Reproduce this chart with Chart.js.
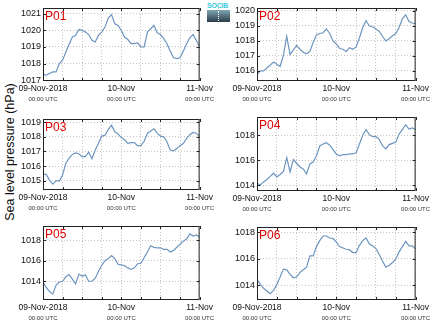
<!DOCTYPE html>
<html>
<head>
<meta charset="utf-8">
<script src="https://cdn.jsdelivr.net/npm/chart.js@4.4.1/dist/chart.umd.min.js"></script>
<style>
  body { margin: 0; background: #fff; width: 434px; height: 327px; overflow: hidden; position: relative; font-family: 'Liberation Sans', Arial, sans-serif; }
  .panel { position: absolute; }
  #ylab { position: absolute; left: 10px; top: 152px; transform: translate(-50%, -50%) rotate(-90deg); font-size: 12.5px; white-space: nowrap; color: #111; }
  #logo { position: absolute; left: 207px; top: 2px; width: 23px; }
  #logo .t { font-size: 7px; font-weight: bold; color: #3cc8d8; line-height: 8px; letter-spacing: -0.2px; }
  #logo .b { height: 12px; background: linear-gradient(#7fa6b2, #2c3c4a); position: relative; }
  #logo .b:after { content: ''; position: absolute; left: 11px; top: 1px; height: 10px; border-left: 1px dotted #fff; }
</style>
</head>
<body>
<div id="ylab">Sea level pressure (hPa)</div>
<div id="logo"><div class="t">SOCIB</div><div class="b"></div></div>

<script>
// hours since 09-Nov-2018 00:00 UTC
const hours = [0,1,2,3,4,5,6,7,8,9,10,11,12,13,14,15,16,17,18,19,20,21,22,23,24,
               25,26,27,28,29,30,31,32,33,34,35,36,37,38,39,40,41,42,43,44,45,46,47,48];

// tick labels
const tickHours = [0, 24, 48];
const tickNames = ['09-Nov-2018', '10-Nov', '11-Nov'];
const subLabel = '00:00 UTC';

// sea level pressure per station (hPa)
const p01 = [1017.35,1017.3,1017.4,1017.5,1017.5,1018.0,1018.2,1018.7,1019.15,1019.6,1019.7,1020.05,1020.0,
             1019.9,1019.75,1019.4,1019.3,1019.7,1019.9,1020.2,1020.75,1020.95,1020.4,1020.3,1020.0,
             1019.6,1019.45,1019.2,1019.2,1019.25,1019.0,1019.0,1019.9,1020.1,1020.3,1019.85,1019.75,
             1019.5,1019.2,1018.75,1018.35,1018.3,1018.35,1018.75,1019.2,1019.55,1019.75,1019.4,1019.0];
const p02 = [1015.75,1016.0,1016.0,1016.2,1016.4,1016.6,1016.45,1016.3,1017.05,1018.3,1017.1,1017.4,1017.7,
             1017.45,1017.25,1017.15,1017.3,1017.9,1018.4,1018.5,1018.55,1018.8,1018.5,1018.0,1017.8,
             1017.5,1017.45,1017.3,1017.55,1017.45,1017.6,1018.2,1018.9,1019.35,1019.0,1018.95,1018.8,
             1018.65,1018.3,1018.0,1018.15,1018.35,1018.5,1018.9,1019.5,1019.75,1019.3,1019.2,1019.15];
const p03 = [1015.48,1015.42,1015.05,1014.77,1015.0,1015.0,1015.4,1016.2,1016.55,1016.8,1016.9,1016.85,1016.65,
             1016.65,1016.95,1016.5,1017.1,1017.55,1018.05,1018.1,1018.5,1018.8,1018.35,1018.2,1017.95,
             1017.8,1017.55,1017.6,1017.6,1017.4,1017.4,1017.7,1018.25,1018.4,1018.55,1018.25,1018.05,
             1018.0,1017.65,1017.1,1017.05,1017.2,1017.4,1017.55,1017.9,1018.15,1018.3,1018.25,1018.0];
const p04 = [1014.15,1014.0,1014.25,1014.45,1014.7,1014.95,1014.65,1014.85,1015.1,1016.2,1015.05,1016.05,1015.75,
             1015.45,1015.3,1014.9,1015.7,1015.85,1016.35,1017.15,1017.3,1017.4,1017.2,1016.85,1016.5,
             1016.35,1016.45,1016.45,1016.5,1016.5,1016.6,1017.3,1018.0,1018.45,1018.05,1017.9,1017.9,
             1017.65,1017.15,1016.9,1017.25,1017.35,1017.45,1018.1,1018.45,1018.85,1018.5,1018.6,1018.45];
const p05 = [1013.93,1013.4,1013.0,1012.75,1013.6,1013.93,1014.0,1014.45,1014.65,1014.2,1013.75,1014.7,1014.5,
             1014.6,1014.0,1014.0,1014.3,1014.95,1015.55,1016.0,1016.2,1016.5,1016.2,1015.65,1015.6,
             1015.5,1015.3,1015.15,1015.3,1015.7,1015.75,1016.3,1016.85,1017.45,1017.3,1017.25,1017.25,
             1017.1,1017.1,1016.85,1017.0,1017.3,1017.6,1017.9,1018.1,1018.6,1018.4,1018.5,1018.3];
const p06 = [1014.43,1014.05,1013.75,1013.55,1013.35,1013.6,1014.05,1014.6,1015.2,1015.15,1014.8,1014.55,1014.6,
             1014.95,1015.15,1015.35,1016.2,1016.2,1016.9,1017.35,1017.7,1017.7,1017.55,1017.5,1017.25,
             1016.9,1016.8,1016.7,1016.65,1016.45,1016.45,1017.0,1017.35,1017.55,1017.1,1016.95,1016.75,
             1016.3,1015.8,1015.35,1015.5,1015.7,1015.95,1016.5,1016.9,1017.3,1016.95,1016.95,1016.75];

// y ticks per panel
const yTicks01 = [1017, 1018, 1019, 1020, 1021];
const yTicks02 = [1016, 1017, 1018, 1019, 1020];
const yTicks03 = [1015, 1016, 1017, 1018, 1019];
const yTicks456 = [1014, 1016, 1018];

// panels: name, data, y range, ticks, plot box (left, top, width, height)
const panels = [
  { name: 'P01', values: p01, ymin: 1016.95, ymax: 1021.35, ticks: yTicks01, box: [43, 8, 157, 73] },
  { name: 'P02', values: p02, ymin: 1015.33, ymax: 1020.2,  ticks: yTicks02, box: [257, 8, 159, 73] },
  { name: 'P03', values: p03, ymin: 1014.37, ymax: 1019.22, ticks: yTicks03, box: [43, 119, 157, 71] },
  { name: 'P04', values: p04, ymin: 1013.52, ymax: 1019.47, ticks: yTicks456, box: [257, 117, 159, 74] },
  { name: 'P05', values: p05, ymin: 1012.18, ymax: 1019.37, ticks: yTicks456, box: [43, 226, 157, 74] },
  { name: 'P06', values: p06, ymin: 1012.87, ymax: 1018.38, ticks: yTicks456, box: [257, 227, 159, 73] },
];

const Y_W = 40, X_H = 26, PAD_T = 10, PAD_R = 16;
const FONT = "'Liberation Sans', Arial, sans-serif";

// frame, inner tick marks, "00:00 UTC" line and red station name
const framePlugin = {
  id: 'frame',
  afterDraw(chart, args, opts) {
    const { ctx, chartArea: a, scales: { x, y } } = chart;
    ctx.save();
    ctx.strokeStyle = '#222';
    ctx.lineWidth = 1;
    ctx.strokeRect(a.left + 0.5, a.top + 0.5, a.right - a.left - 1, a.bottom - a.top - 1);
    ctx.beginPath();
    x.ticks.forEach(t => {
      const px = Math.round(x.getPixelForValue(t.value)) + 0.5;
      ctx.moveTo(px, a.bottom); ctx.lineTo(px, a.bottom - 3);
      ctx.moveTo(px, a.top); ctx.lineTo(px, a.top + 3);
    });
    y.ticks.forEach(t => {
      const py = Math.round(y.getPixelForValue(t.value)) + 0.5;
      ctx.moveTo(a.left, py); ctx.lineTo(a.left + 3, py);
      ctx.moveTo(a.right, py); ctx.lineTo(a.right - 3, py);
    });
    ctx.stroke();

    ctx.font = '6px ' + FONT;
    ctx.fillStyle = '#333';
    ctx.textAlign = 'center';
    ctx.textBaseline = 'middle';
    tickHours.forEach(h => ctx.fillText(subLabel, x.getPixelForValue(h), a.bottom + 18));

    ctx.font = '12px ' + FONT;
    ctx.fillStyle = '#e00000';
    ctx.textAlign = 'left';
    ctx.textBaseline = 'top';
    ctx.fillText(opts.name, a.left + 2, a.top + 3);
    ctx.restore();
  }
};

panels.forEach(p => {
  const [L, T, W, H] = p.box;
  const div = document.createElement('div');
  div.className = 'panel';
  div.style.left = (L - Y_W) + 'px';
  div.style.top = (T - PAD_T) + 'px';
  const canvas = document.createElement('canvas');
  canvas.width = W + Y_W + PAD_R;
  canvas.height = H + PAD_T + X_H;
  div.appendChild(canvas);
  document.body.appendChild(div);

  new Chart(canvas, {
    type: 'line',
    data: {
      datasets: [{
        data: hours.map((h, i) => ({ x: h, y: p.values[i] })),
        borderColor: '#6e96c0',
        borderWidth: 1.2,
        pointRadius: 0,
        tension: 0,
        fill: false,
      }],
    },
    options: {
      responsive: false,
      animation: false,
      devicePixelRatio: 1,
      layout: { padding: { top: PAD_T, right: PAD_R, left: 0, bottom: 0 } },
      plugins: {
        legend: { display: false },
        tooltip: { enabled: false },
        frame: { name: p.name },
      },
      scales: {
        x: {
          type: 'linear',
          min: 0,
          max: 48,
          afterBuildTicks: s => { s.ticks = [0, 6, 12, 18, 24, 30, 36, 42, 48].map(v => ({ value: v })); },
          afterFit: s => { s.height = X_H; },
          ticks: {
            autoSkip: false,
            maxRotation: 0,
            padding: 3,
            color: '#111',
            font: { size: 8.5, family: FONT },
            callback: v => { const i = tickHours.indexOf(v); return i >= 0 ? tickNames[i] : ''; },
          },
          grid: { color: '#c4c4c4', lineWidth: 1, drawTicks: false },
          border: { display: false, dash: [1, 2] },
        },
        y: {
          min: p.ymin,
          max: p.ymax,
          afterBuildTicks: s => { s.ticks = p.ticks.map(v => ({ value: v })); },
          afterFit: s => { s.width = Y_W; },
          ticks: {
            padding: 2,
            color: '#111',
            font: { size: 9, family: FONT },
            callback: v => String(v),
          },
          grid: { color: '#c4c4c4', lineWidth: 1, drawTicks: false },
          border: { display: false, dash: [1, 2] },
        },
      },
    },
    plugins: [framePlugin],
  });
});
</script>
</body>
</html>
